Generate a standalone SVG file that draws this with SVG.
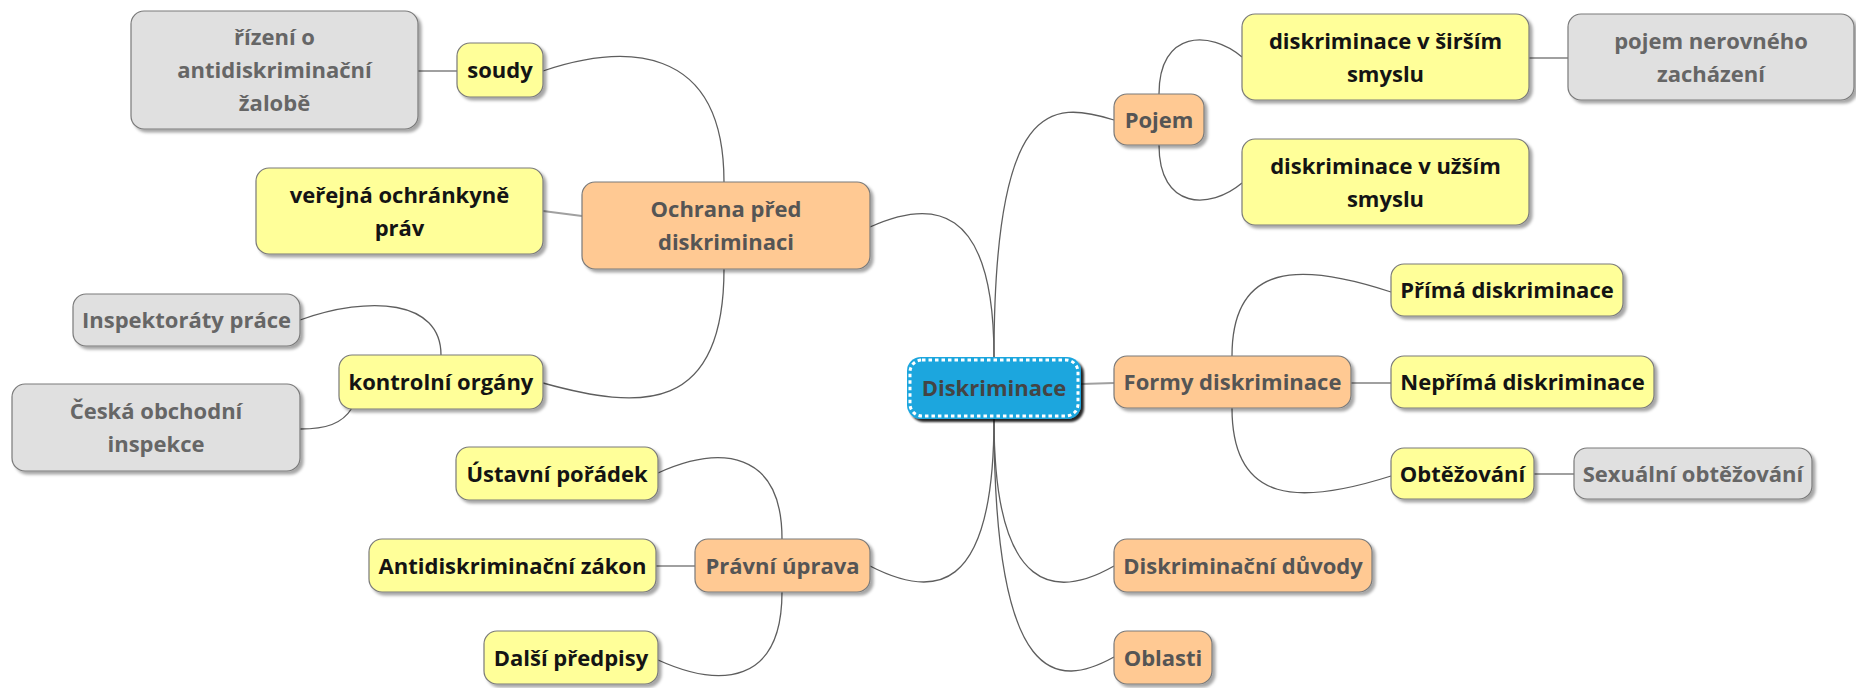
<svg xmlns="http://www.w3.org/2000/svg" width="1856" height="688" viewBox="0 0 1856 688">
<defs>
<filter id="sh" x="-10%" y="-20%" width="130%" height="150%"><feDropShadow dx="3" dy="3" stdDeviation="1.8" flood-color="#000" flood-opacity="0.35"/></filter>
<filter id="shc" x="-10%" y="-20%" width="130%" height="150%"><feDropShadow dx="3" dy="3" stdDeviation="1" flood-color="#000" flood-opacity="0.85"/></filter>
<style>
.b{stroke:#7a7a7a;stroke-width:1.2;filter:url(#sh)}
.y{fill:#ffff99}
.o{fill:#ffc993}
.g{fill:#e0e0e0}
text{font-family:"Open Sans","DejaVu Sans",sans-serif;font-weight:700;font-size:22px;text-anchor:middle}
.ty{fill:#141414}
.to{fill:#555}
.tg{fill:#666}
.c{fill:none;stroke:#5e5e5e;stroke-width:1.3}
.s{fill:none;stroke:#a0a0a0;stroke-width:2.2}
</style>
</defs>
<rect width="1856" height="688" fill="#fff"/>
<g id="connectors">
<path class="c" d="M994,357 C994,200 930,200 870,227"/>
<path class="c" d="M994,357 C994,100 1050,100 1114,120"/>
<path class="c" d="M994,419 C994,598 932,598 870,566"/>
<path class="c" d="M994,419 C994,598 1058,598 1114,566"/>
<path class="c" d="M994,419 C994,690 1058,688 1114,657"/>
<path class="s" d="M1081,384 L1114,383"/>
<path class="c" d="M724,182 C724,40 620,45 543,71"/>
<path class="s" d="M582,216 L543,211"/>
<path class="c" d="M724,269 C724,415 640,410 543,383"/>
<path class="c" d="M441,355 C441,300 370,295 300,320"/>
<path class="c" d="M352,408 C342,424 326,429 300,429"/>
<path class="s" d="M457,71 L418,71"/>
<path class="c" d="M1159,94 C1159,30 1210,30 1242,57"/>
<path class="c" d="M1159,145 C1159,210 1210,210 1242,183"/>
<path class="s" d="M1529,58 L1568,58"/>
<path class="c" d="M1232,356 C1232,262 1300,262 1391,292"/>
<path class="s" d="M1351,383 L1391,383"/>
<path class="c" d="M1232,408 C1232,505 1300,505 1391,476"/>
<path class="s" d="M1534,474 L1574,474"/>
<path class="c" d="M782,539 C782,450 720,445 658,473"/>
<path class="s" d="M695,566 L656,566"/>
<path class="c" d="M782,592 C782,685 720,688 658,660"/>
</g>
<g id="n-rizeni"><rect class="b g" x="131" y="11" width="287" height="118" rx="13"/><text class="tg" x="274.5" y="44.5">řízení o</text><text class="tg" x="274.5" y="77.5">antidiskriminační</text><text class="tg" x="274.5" y="110.5">žalobě</text></g>
<g id="n-soudy"><rect class="b y" x="457" y="43" width="86" height="54" rx="13"/><text class="ty" x="500" y="77.5">soudy</text></g>
<g id="n-verejna"><rect class="b y" x="256" y="168" width="287" height="86" rx="13"/><text class="ty" x="399.5" y="202.5">veřejná ochránkyně</text><text class="ty" x="399.5" y="235.5">práv</text></g>
<g id="n-ochrana"><rect class="b o" x="582" y="182" width="288" height="87" rx="13"/><text class="to" x="726" y="216.5">Ochrana před</text><text class="to" x="726" y="249.5">diskriminaci</text></g>
<g id="n-inspektoraty"><rect class="b g" x="73" y="294" width="227" height="52" rx="13"/><text class="tg" x="186.5" y="327.5">Inspektoráty práce</text></g>
<g id="n-kontrolni"><rect class="b y" x="339" y="355" width="204" height="54" rx="13"/><text class="ty" x="441" y="389.5">kontrolní orgány</text></g>
<g id="n-ceska"><rect class="b g" x="12" y="384" width="288" height="87" rx="13"/><text class="tg" x="156" y="418.5">Česká obchodní</text><text class="tg" x="156" y="451.5">inspekce</text></g>
<g id="n-ustavni"><rect class="b y" x="456" y="447" width="202" height="53" rx="13"/><text class="ty" x="557" y="481.5">Ústavní pořádek</text></g>
<g id="n-antidisk"><rect class="b y" x="369" y="539" width="287" height="53" rx="13"/><text class="ty" x="512.5" y="573.5">Antidiskriminační zákon</text></g>
<g id="n-dalsi"><rect class="b y" x="484" y="631" width="174" height="53" rx="13"/><text class="ty" x="571" y="665.5">Další předpisy</text></g>
<g id="n-pravni"><rect class="b o" x="695" y="539" width="175" height="53" rx="13"/><text class="to" x="782.5" y="573.5">Právní úprava</text></g>
<g id="n-center"><rect x="907" y="357" width="174" height="62" rx="14" fill="#1fa6de" filter="url(#shc)"/><rect x="910" y="360" width="168" height="56" rx="12" fill="none" stroke="#fff" stroke-width="3" stroke-dasharray="3.5 3"/><text x="994" y="396" fill="#444">Diskriminace</text></g>
<g id="n-pojem"><rect class="b o" x="1114" y="94" width="90" height="51" rx="13"/><text class="to" x="1159" y="127.5">Pojem</text></g>
<g id="n-sirsim"><rect class="b y" x="1242" y="14" width="287" height="86" rx="13"/><text class="ty" x="1385.5" y="48.5">diskriminace v širším</text><text class="ty" x="1385.5" y="81.5">smyslu</text></g>
<g id="n-nerovneho"><rect class="b g" x="1568" y="14" width="286" height="86" rx="13"/><text class="tg" x="1711" y="48.5">pojem nerovného</text><text class="tg" x="1711" y="81.5">zacházení</text></g>
<g id="n-uzsim"><rect class="b y" x="1242" y="139" width="287" height="86" rx="13"/><text class="ty" x="1385.5" y="173.5">diskriminace v užším</text><text class="ty" x="1385.5" y="206.5">smyslu</text></g>
<g id="n-formy"><rect class="b o" x="1114" y="356" width="237" height="52" rx="13"/><text class="to" x="1232.5" y="389.5">Formy diskriminace</text></g>
<g id="n-prima"><rect class="b y" x="1391" y="264" width="232" height="52" rx="13"/><text class="ty" x="1507" y="297.5">Přímá diskriminace</text></g>
<g id="n-neprima"><rect class="b y" x="1391" y="356" width="263" height="52" rx="13"/><text class="ty" x="1522.5" y="389.5">Nepřímá diskriminace</text></g>
<g id="n-obtezovani"><rect class="b y" x="1391" y="448" width="143" height="51" rx="13"/><text class="ty" x="1462.5" y="481.5">Obtěžování</text></g>
<g id="n-sexualni"><rect class="b g" x="1574" y="448" width="238" height="51" rx="13"/><text class="tg" x="1693" y="481.5">Sexuální obtěžování</text></g>
<g id="n-duvody"><rect class="b o" x="1114" y="539" width="258" height="53" rx="13"/><text class="to" x="1243" y="573.5">Diskriminační důvody</text></g>
<g id="n-oblasti"><rect class="b o" x="1114" y="631" width="98" height="53" rx="13"/><text class="to" x="1163" y="665.5">Oblasti</text></g>
</svg>
